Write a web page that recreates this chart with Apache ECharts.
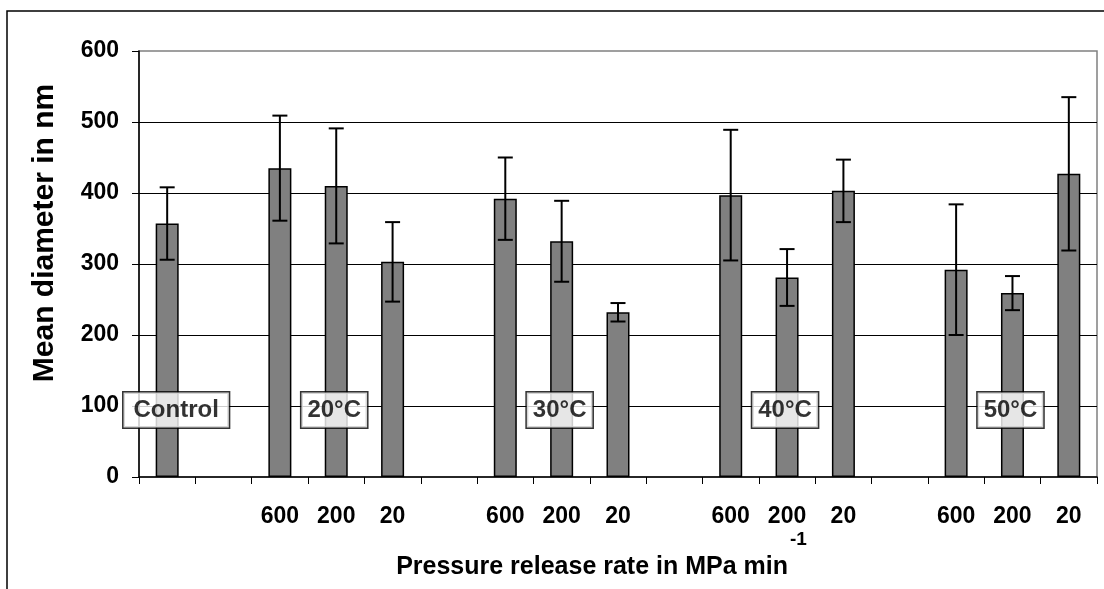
<!DOCTYPE html>
<html>
<head>
<meta charset="utf-8">
<script src="https://cdn.jsdelivr.net/npm/echarts@6/dist/echarts.min.js"></script>
<style>
  html, body { margin: 0; padding: 0; background: #fff; }
  #chart { width: 1104px; height: 589px; }
</style>
</head>
<body>
<div id="chart"></div>
<script>
  // categories along the x axis (ids), and the label shown under each one
  const categories = ['c0', 'c1', 'c2', 'c3', 'c4', 'c5', 'c6', 'c7', 'c8', 'c9', 'c10', 'c11', 'c12', 'c13', 'c14', 'c15', 'c16'];
  const tickLabels = ['', '', '600', '200', '20', '', '600', '200', '20', '', '600', '200', '20', '', '600', '200', '20'];
  // mean diameter (nm) and the +/- error
  const meanDiameter = [357, null, 435, 410, 303, null, 392, 332, 232, null, 397, 281, 403, null, 292, 259, 427];
  const errorSize = [51, null, 74, 81, 56, null, 58, 57, 13, null, 92, 40, 44, null, 92, 24, 108];
  // group boxes and the category each one sits on
  const groupNames = ['Control', '20°C', '30°C', '40°C', '50°C'];
  const groupCategory = [0, 3, 7, 11, 15];
  const yTicks = [0, 100, 200, 300, 400, 500, 600];

  const FONT = '"Liberation Sans", Arial, sans-serif';

  let errData = [];
  meanDiameter.forEach(function (v, i) {
    if (v != null) errData.push([i, v - errorSize[i], v + errorSize[i]]);
  });

  let groupData = groupNames.map(function (n, k) {
    return {
      value: [groupCategory[k], 100],
      name: n,
      label: k == 0 ? { offset: [9, 4], padding: [6, 10, 5, 10] } : { offset: [-2, 4] }
    };
  });

  let myChart = echarts.init(document.getElementById('chart'));
  let option = {
    animation: false,
    backgroundColor: '#fff',
    grid: {
      left: 139, top: 51, right: 7, bottom: 112,
      show: true, borderColor: '#808080', borderWidth: 1.5
    },
    xAxis: {
      type: 'category',
      data: categories,
      boundaryGap: true,
      axisLine: { lineStyle: { color: '#000', width: 1.5 } },
      axisTick: { show: true, interval: 0, length: 7, lineStyle: { color: '#000', width: 1 } },
      axisLabel: {
        interval: 0, margin: 28,
        formatter: function (v, i) { return tickLabels[i]; },
        color: '#000', fontFamily: FONT, fontWeight: 'bold', fontSize: 23
      },
      splitLine: { show: false }
    },
    yAxis: {
      type: 'value',
      min: yTicks[0], max: yTicks[yTicks.length - 1], interval: 100,
      axisLine: { show: true, lineStyle: { color: '#000', width: 1.5 } },
      axisTick: { show: true, length: 7, lineStyle: { color: '#000', width: 1 } },
      axisLabel: { margin: 20, color: '#000', fontFamily: FONT, fontWeight: 'bold', fontSize: 23 },
      splitLine: { show: true, showMinLine: false, showMaxLine: false, lineStyle: { color: '#000', width: 1 } }
    },
    graphic: [
      {
        type: 'rect', silent: true, z: -1,
        shape: { x: 7, y: 11, width: 1200, height: 700 },
        style: { fill: 'none', stroke: '#000', lineWidth: 1.5 }
      },
      {
        type: 'text', x: 45, y: 233, rotation: Math.PI / 2,
        style: {
          text: 'Mean diameter in nm', fill: '#000',
          font: 'bold 30px ' + FONT, align: 'center', verticalAlign: 'middle'
        }
      },
      {
        type: 'text', x: 788, y: 567,
        style: {
          text: 'Pressure release rate in MPa min', fill: '#000',
          font: 'bold 25px ' + FONT, align: 'right', verticalAlign: 'middle'
        }
      },
      {
        type: 'text', x: 790, y: 540,
        style: {
          text: '-1', fill: '#000',
          font: 'bold 19px ' + FONT, align: 'left', verticalAlign: 'middle'
        }
      }
    ],
    series: [
      {
        type: 'bar',
        data: meanDiameter,
        barWidth: 23,
        itemStyle: { color: '#808080', borderColor: '#000', borderWidth: 1.5 },
        z: 2
      },
      {
        type: 'custom',
        data: errData,
        z: 3,
        renderItem: function (params, api) {
          let lo = api.coord([api.value(0), api.value(1)]);
          let hi = api.coord([api.value(0), api.value(2)]);
          let hw = 7.5;
          let st = { stroke: '#000', lineWidth: 2 };
          return {
            type: 'group',
            children: [
              { type: 'line', shape: { x1: hi[0], y1: hi[1], x2: lo[0], y2: lo[1] }, style: st },
              { type: 'line', shape: { x1: hi[0] - hw, y1: hi[1], x2: hi[0] + hw, y2: hi[1] }, style: st },
              { type: 'line', shape: { x1: lo[0] - hw, y1: lo[1], x2: lo[0] + hw, y2: lo[1] }, style: st }
            ]
          };
        }
      },
      {
        type: 'scatter',
        data: groupData,
        symbolSize: 0,
        z: 5,
        label: {
          show: true, position: 'inside',
          formatter: function (p) { return p.name; },
          color: '#000', fontFamily: FONT, fontWeight: 'bold', fontSize: 24,
          backgroundColor: '#fff', borderColor: '#000', borderWidth: 1.5,
          padding: [6, 6, 5, 6]
        }
      }
    ]
  };
  myChart.setOption(option);
</script>
</body>
</html>
